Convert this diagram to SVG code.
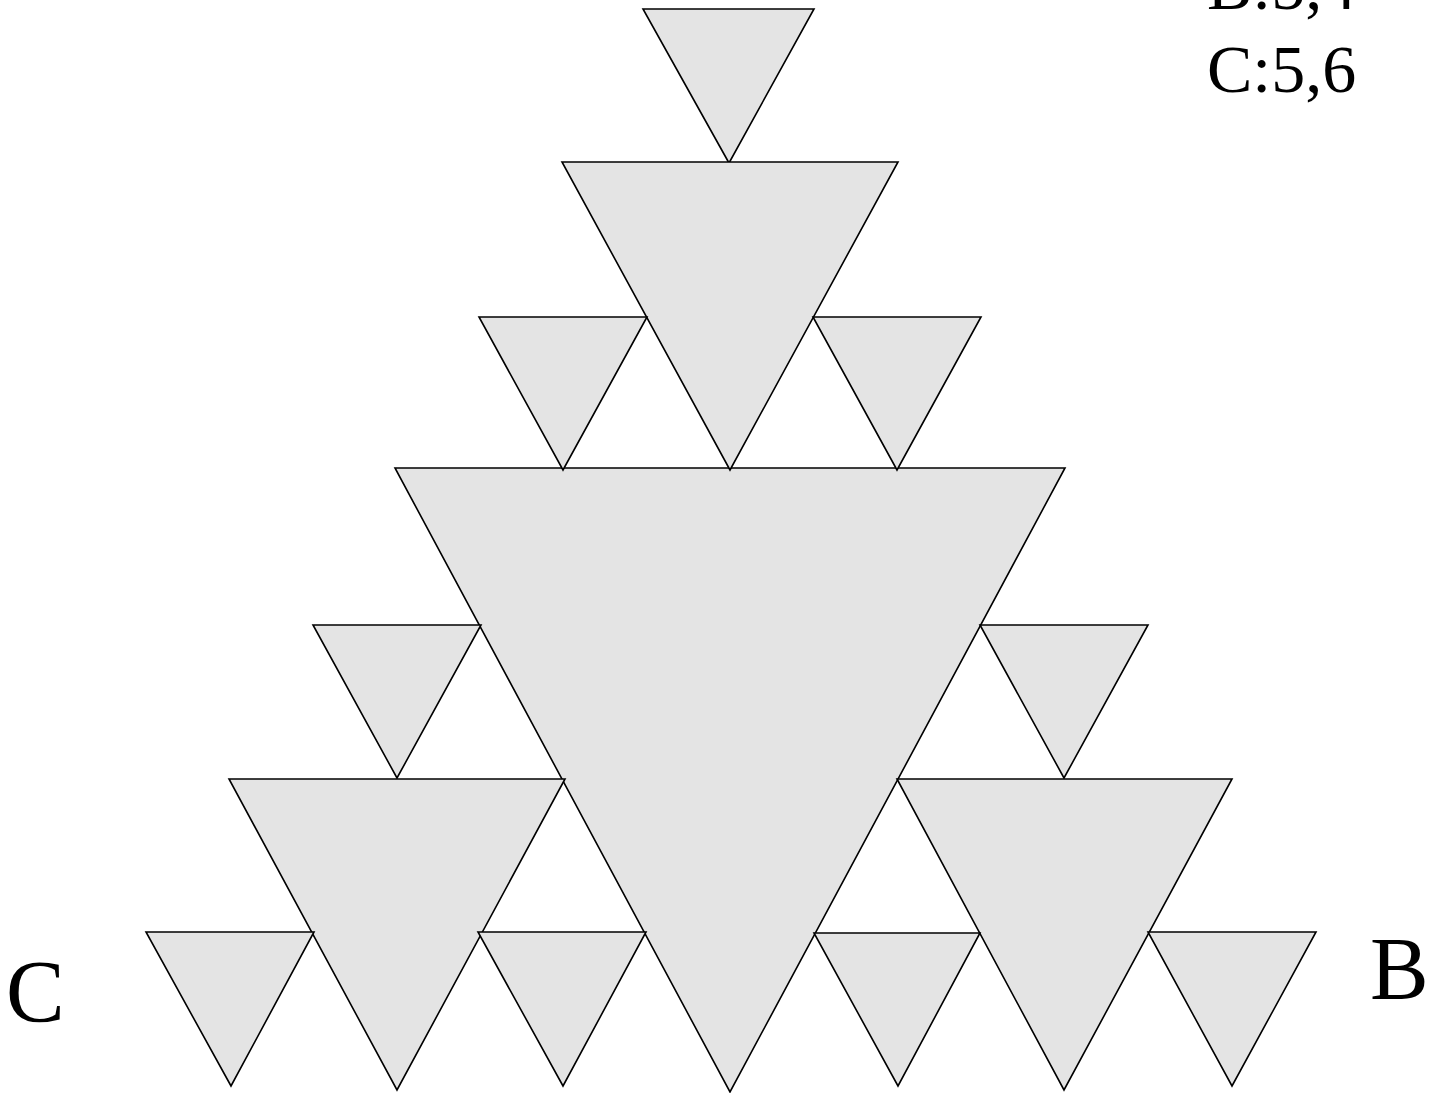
<svg xmlns="http://www.w3.org/2000/svg" width="1441" height="1093" viewBox="0 0 1441 1093">
<style>
.t{fill:#e4e4e4;stroke:#000;stroke-width:1.6;stroke-linejoin:miter}
.lbl{font-family:"Liberation Serif","Times New Roman",serif;fill:#000}
</style>
<rect width="1441" height="1093" fill="#fff"/>
<g id="tri5"><polygon class="t" points="395,468 1065,468 730,1092"/></g>
<g id="tri1"><polygon class="t" points="643,9 814,9 729,163"/></g>
<g id="tri2"><polygon class="t" points="562,162 898,162 730,470"/></g>
<g id="tri3"><polygon class="t" points="479,317 647,317 563,470"/></g>
<g id="tri4"><polygon class="t" points="813,317 981,317 897,470"/></g>
<g id="tri6"><polygon class="t" points="313,625 481,625 397,778"/></g>
<g id="tri7"><polygon class="t" points="980,625 1148,625 1064,778"/></g>
<g id="tri8"><polygon class="t" points="229,779 565,779 397,1090"/></g>
<g id="tri9"><polygon class="t" points="897,779 1232,779 1064,1090"/></g>
<g id="tri10"><polygon class="t" points="146,932 314,932 231,1086"/></g>
<g id="tri11"><polygon class="t" points="478,932 646,932 563,1086"/></g>
<g id="tri12"><polygon class="t" points="814,933 980,933 898,1086"/></g>
<g id="tri13"><polygon class="t" points="1148,932 1316,932 1232,1086"/></g>
<g id="connectors"></g>
<g id="labels">
<text class="lbl" x="1207" y="9" font-size="68">B:5,4</text>
<text class="lbl" x="1207" y="92" font-size="68">C:5,6</text>
<text class="lbl" x="6" y="1021" font-size="88">C</text>
<text class="lbl" x="1370" y="998" font-size="88">B</text>
</g>
</svg>
